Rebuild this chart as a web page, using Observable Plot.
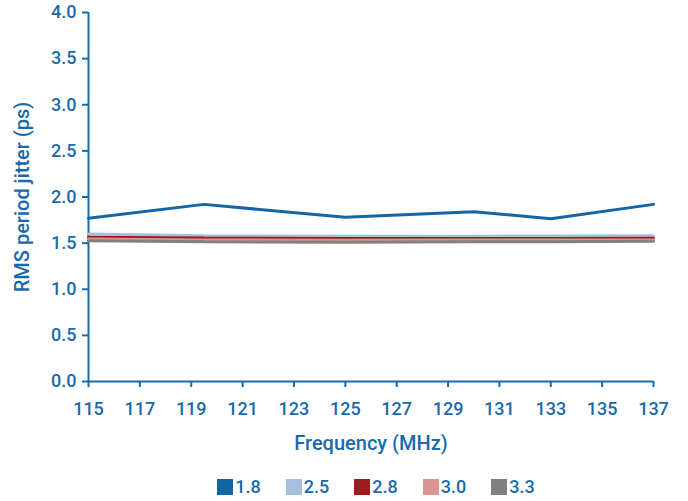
<!DOCTYPE html>
<html>
<head>
<meta charset="utf-8">
<script src="https://cdn.jsdelivr.net/npm/d3@7"></script>
<script src="https://cdn.jsdelivr.net/npm/@observablehq/plot@0.6"></script>
<style>
  html, body { margin: 0; padding: 0; background: #fff; }
  #chart { width: 688px; font-family: Roboto, "DejaVu Sans", sans-serif; }
  .legend { display: flex; justify-content: center; gap: 25px; margin-top: 16px; margin-left: 64px;
    font-family: Roboto, sans-serif; font-size: 18px; font-weight: 500; color: #1a6aab; }
  .legend span.item { display: inline-flex; align-items: center; }
  .legend span.sw { width: 16px; height: 16px; display: inline-block; margin-right: 2px; }
</style>
</head>
<body>
<div id="chart"></div>
<script>
const frequencies = [115, 119.5, 125, 130, 133, 137];
const seriesNames = ["1.8", "2.5", "2.8", "3.0", "3.3"];
const seriesColors = ["#1465a6", "#a7bfdf", "#9e1a1c", "#da9494", "#808080"];
const v18 = [1.77, 1.92, 1.78, 1.84, 1.765, 1.92];
const v25 = [1.60, 1.58, 1.575, 1.575, 1.578, 1.58];
const v28 = [1.565, 1.555, 1.55, 1.55, 1.55, 1.552];
const v30 = [1.545, 1.535, 1.53, 1.535, 1.535, 1.535];
const v33 = [1.525, 1.515, 1.51, 1.515, 1.515, 1.52];
const xTicks = [115, 117, 119, 121, 123, 125, 127, 129, 131, 133, 135, 137];
const yTicks = [0, 0.5, 1, 1.5, 2, 2.5, 3, 3.5, 4];

const allValues = [v18, v25, v28, v30, v33];
const data = [];
allValues.forEach((vals, i) => {
  vals.forEach((v, j) => data.push({series: seriesNames[i], f: frequencies[j], v}));
});

const axisColor = "#1a6aab";

const plot = Plot.plot({
  width: 688,
  height: 460,
  marginLeft: 88,
  marginRight: 35,
  marginTop: 12,
  marginBottom: 79,
  style: {fontFamily: "Roboto, sans-serif", fontSize: "18px", color: axisColor, background: "#fff"},
  x: {domain: [115, 137]},
  y: {domain: [0, 4]},
  color: {domain: seriesNames, range: seriesColors},
  marks: [
    Plot.axisX({ticks: xTicks, tickSize: 6, tickPadding: 15, stroke: axisColor, strokeWidth: 2, fill: axisColor,
      label: null, fontSize: 18, fontWeight: 500}),
    Plot.axisX({ticks: [], tickSize: 0, fill: axisColor,
      label: "Frequency (MHz)", labelAnchor: "center", labelArrow: false, labelOffset: 68, fontSize: 20, fontWeight: 500}),
    Plot.axisY({ticks: yTicks, tickFormat: d3.format(".1f"), tickSize: 6, tickPadding: 6, stroke: axisColor, strokeWidth: 2, fill: axisColor,
      label: null, fontSize: 18, fontWeight: 500}),
    Plot.axisY({ticks: [], tickSize: 0, fill: axisColor,
      label: "RMS period jitter (ps)", labelAnchor: "center", labelArrow: false, labelOffset: 74, fontSize: 20, fontWeight: 500}),
    Plot.ruleX([115], {stroke: axisColor, strokeWidth: 2}),
    Plot.ruleY([0], {stroke: axisColor, strokeWidth: 2}),
    Plot.line(data, {x: "f", y: "v", z: "series", stroke: "series", strokeWidth: 3, strokeLinejoin: "miter"})
  ]
});

const chart = document.getElementById("chart");
chart.appendChild(plot);

const legend = document.createElement("div");
legend.className = "legend";
seriesNames.forEach((name, i) => {
  const item = document.createElement("span");
  item.className = "item";
  const sw = document.createElement("span");
  sw.className = "sw";
  sw.style.background = seriesColors[i];
  item.appendChild(sw);
  item.appendChild(document.createTextNode(name));
  legend.appendChild(item);
});
chart.appendChild(legend);
</script>
</body>
</html>
